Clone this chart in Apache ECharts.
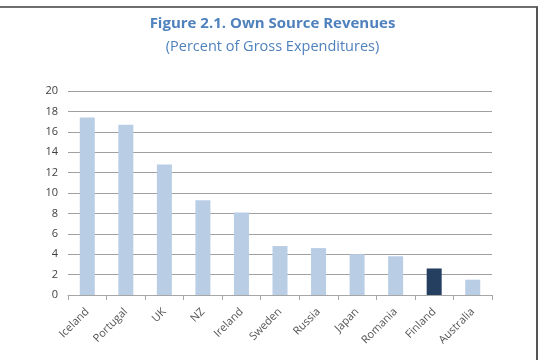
<!DOCTYPE html>
<html><head><meta charset="utf-8">
<script src="https://cdn.jsdelivr.net/npm/echarts@6/dist/echarts.min.js"></script>
<style>html,body{margin:0;padding:0;background:#fff}#c{width:545px;height:360px}</style>
</head><body><div id="c"></div>
<script>
const categories = ["Iceland","Portugal","UK","NZ","Ireland","Sweden","Russia","Japan","Romania","Finland","Australia"];
const values = [17.4, 16.7, 12.8, 9.3, 8.1, 4.8, 4.6, 4.0, 3.8, 2.6, 1.5];
const highlight = "Finland";
const yTicks = [0, 2, 4, 6, 8, 10, 12, 14, 16, 18, 20];

const chart = echarts.init(document.getElementById('c'));
chart.setOption({
  animation: false,
  title: [
    {text: 'Figure 2.1. Own Source Revenues', left: 'center', top: 11,
     textStyle: {fontFamily: 'Open Sans', fontWeight: 'bold', fontSize: 15, color: '#4F81BD'}},
    {text: '(Percent of Gross Expenditures)', left: 'center', top: 34,
     textStyle: {fontFamily: 'Open Sans', fontWeight: 'normal', fontSize: 14.5, color: '#4F81BD'}}
  ],
  graphic: [
    {type: 'line', shape: {x1: 0, y1: 7, x2: 538, y2: 7}, style: {stroke: '#6f6f6f', lineWidth: 2}},
    {type: 'line', shape: {x1: 537, y1: 7, x2: 537, y2: 360}, style: {stroke: '#555', lineWidth: 2}}
  ],
  grid: {left: 68, right: 53, top: 91, bottom: 65},
  xAxis: {
    type: 'category', data: categories,
    axisLine: {lineStyle: {color: '#a6a6a6'}},
    axisTick: {show: true, alignWithLabel: false, length: 5, lineStyle: {color: '#a6a6a6'}},
    axisLabel: {rotate: 45, interval: 0, fontFamily: 'Open Sans', fontSize: 11, color: '#555', margin: 15}
  },
  yAxis: {
    type: 'value', min: yTicks[0], max: yTicks[yTicks.length-1], interval: 2,
    axisLine: {show: false}, axisTick: {show: false},
    axisLabel: {fontFamily: 'Open Sans', fontSize: 11, color: '#404040', margin: 10},
    splitLine: {lineStyle: {color: '#a0a0a0', width: 1}}
  },
  series: [{
    type: 'bar', barWidth: 15,
    data: values.map((v, i) => ({value: v, itemStyle: {color: categories[i] === highlight ? '#243F60' : '#B9CDE5'}}))
  }]
});
</script></body></html>
